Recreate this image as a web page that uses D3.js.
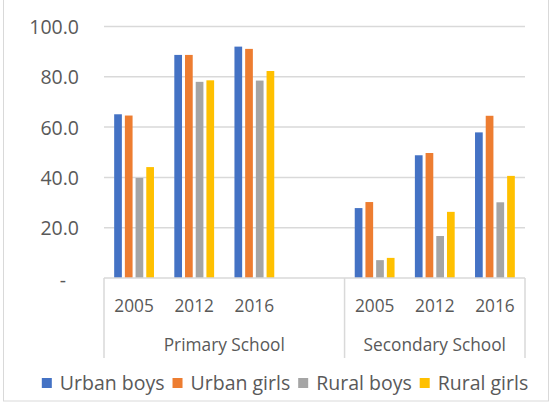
<!DOCTYPE html>
<html>
<head>
<meta charset="utf-8">
<script src="https://cdn.jsdelivr.net/npm/d3@7"></script>
<style>
  body { margin: 0; background: #fff; }
  text { font-family: "Open Sans", sans-serif; fill: #595959; }
</style>
</head>
<body>
<div id="chart"></div>
<script>
'use strict';

// data
var groups = ['Primary School', 'Secondary School'];
var years = ['2005', '2012', '2016'];
var seriesNames = ['Urban boys', 'Urban girls', 'Rural boys', 'Rural girls'];
var seriesColors = ['#4472C4', '#ED7D31', '#A5A5A5', '#FFC000'];
var urbanBoys = [65.1, 88.7, 92.0, 27.8, 48.8, 57.9];
var urbanGirls = [64.6, 88.7, 91.1, 30.2, 49.7, 64.5];
var ruralBoys = [39.8, 78.0, 78.5, 7.1, 16.7, 30.1];
var ruralGirls = [44.1, 78.6, 82.3, 8.0, 26.3, 40.6];
var yTicks = [0, 20, 40, 60, 80, 100];

var W = 552, H = 402;
var plot = { left: 104, right: 525, top: 26.5, bottom: 278 };

var svg = d3.select('#chart').append('svg')
  .attr('width', W)
  .attr('height', H);

svg.append('rect')
  .attr('x', 3.5).attr('y', -2)
  .attr('width', 545).attr('height', 403)
  .attr('fill', '#fff')
  .attr('stroke', '#d9d9d9');

// categories: primary years, one empty slot, secondary years
var slots = [];
years.forEach(function(y) { slots.push({ key: 'p' + y, label: y, group: 0 }); });
slots.push({ key: 'gap', label: '', group: 0 });
years.forEach(function(y) { slots.push({ key: 's' + y, label: y, group: 1 }); });

var seriesValues = [urbanBoys, urbanGirls, ruralBoys, ruralGirls];
var rows = slots.filter(function(s) { return s.key !== 'gap'; });

var x0 = d3.scaleBand()
  .domain(slots.map(function(s) { return s.key; }))
  .range([plot.left, plot.right]);

var x1 = d3.scaleBand()
  .domain(seriesNames)
  .range([0, x0.bandwidth()])
  .paddingInner(0.28)
  .paddingOuter(0.95);

var y = d3.scaleLinear().domain([0, 100]).range([plot.bottom, plot.top]);

// gridlines
svg.append('g')
  .selectAll('line')
  .data(yTicks.slice(1))
  .join('line')
  .attr('x1', plot.left).attr('x2', plot.right)
  .attr('y1', function(d) { return y(d); })
  .attr('y2', function(d) { return y(d); })
  .attr('stroke', '#d9d9d9')
  .attr('stroke-width', 1.5);

// y labels
var yAxis = d3.axisLeft(y)
  .tickValues(yTicks)
  .tickSize(0)
  .tickPadding(0)
  .tickFormat(function(d) { return d === 0 ? '-' : d3.format('.1f')(d); });

var yg = svg.append('g')
  .attr('transform', 'translate(79,0)')
  .call(yAxis);
yg.select('.domain').remove();
yg.selectAll('text')
  .style('font-size', '19.5px')
  .attr('fill', '#595959')
  .attr('dy', '0.36em');
yg.selectAll('.tick')
  .filter(function(d) { return d === 0; })
  .select('text')
  .attr('text-anchor', 'middle')
  .attr('x', -16)
  .attr('dy', '0.45em');

// bars
rows.forEach(function(slot, i) {
  var g = svg.append('g').attr('transform', 'translate(' + x0(slot.key) + ',0)');
  seriesNames.forEach(function(name, k) {
    var v = seriesValues[k][i];
    g.append('rect')
      .attr('x', x1(name))
      .attr('width', x1.bandwidth())
      .attr('y', y(v))
      .attr('height', y(0) - y(v))
      .attr('fill', seriesColors[k]);
  });
});

// category axis box
var axisG = svg.append('g').attr('stroke', '#d9d9d9').attr('stroke-width', 1.5);
axisG.append('line')
  .attr('x1', plot.left).attr('x2', plot.right)
  .attr('y1', plot.bottom).attr('y2', plot.bottom);
var seps = [plot.left, x0('s2005'), plot.right];
axisG.selectAll('.sep')
  .data(seps)
  .join('line')
  .attr('x1', function(d) { return d; })
  .attr('x2', function(d) { return d; })
  .attr('y1', plot.bottom)
  .attr('y2', 358);

svg.append('g')
  .selectAll('text')
  .data(rows)
  .join('text')
  .attr('x', function(d) { return x0(d.key) + x0.bandwidth() / 2; })
  .attr('y', 311.5)
  .attr('text-anchor', 'middle')
  .style('font-size', '17.3px')
  .text(function(d) { return d.label; });

var groupSpans = [[plot.left, x0('s2005')], [x0('s2005'), plot.right]];
svg.append('g')
  .selectAll('text')
  .data(groups)
  .join('text')
  .attr('x', function(d, i) { return (groupSpans[i][0] + groupSpans[i][1]) / 2; })
  .attr('y', 351)
  .attr('text-anchor', 'middle')
  .style('font-size', '17.3px')
  .text(function(d) { return d; });

// legend
var legend = svg.append('g');
var items = legend.selectAll('g')
  .data(seriesNames)
  .join('g');
items.append('rect')
  .attr('width', 10).attr('height', 10)
  .attr('y', 378)
  .attr('fill', function(d, i) { return seriesColors[i]; });
items.append('text')
  .attr('y', 389.5)
  .style('font-size', '19.5px')
  .text(function(d) { return d; });

var cursor = 0;
items.each(function() {
  var item = d3.select(this);
  var tw = item.select('text').node().getComputedTextLength();
  item.select('rect').attr('x', cursor);
  item.select('text').attr('x', cursor + 18);
  cursor += 18 + tw + 8;
});
var total = cursor - 8;
legend.attr('transform', 'translate(' + (285 - total / 2) + ',0)');
</script>
</body>
</html>
